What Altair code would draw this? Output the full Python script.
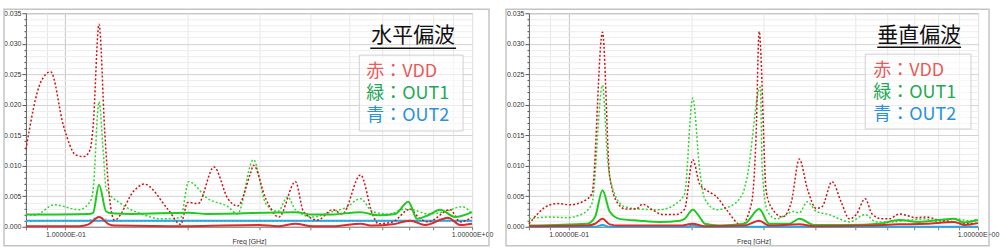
import altair as alt
import pandas as pd

# ---------------- data (frequency in GHz, amplitude) ----------------
# Left panel: 水平偏波
h_vdd_dot_f = [0.080, 0.087, 0.092, 0.099, 0.106, 0.111, 0.115, 0.117, 0.121, 0.125, 0.128, 0.132,
               0.148, 0.156, 0.179, 0.192, 0.200, 0.212, 0.232, 0.251, 0.265, 0.286, 0.290, 0.311,
               0.335, 0.368, 0.385, 0.417, 0.454, 0.480, 0.532, 0.569, 0.588, 0.637, 0.705, 0.737,
               0.780, 0.883, 0.935, 1.000]
h_vdd_dot_v = [0.0127, 0.0237, 0.0254, 0.0165, 0.0118, 0.0115, 0.0126, 0.0164, 0.0332, 0.0155, 0.0057, 0.0011,
               0.0060, 0.0070, 0.0028, 0.0004, 0.0040, 0.0038, 0.0098, 0.0046, 0.0034, 0.0090, 0.0101, 0.0046,
               0.0016, 0.0074, 0.0025, 0.0011, 0.0028, 0.0021, 0.0085, 0.0021, 0.0005, 0.0008, 0.0029, 0.0016,
               0.0008, 0.0028, 0.0008, 0.0016]

h_out1_dot_f = [0.080, 0.084, 0.094, 0.108, 0.115, 0.117, 0.121, 0.124, 0.126, 0.137, 0.154, 0.172, 0.192,
                0.201, 0.224, 0.251, 0.265, 0.290, 0.311, 0.333, 0.352, 0.368, 0.405, 0.454, 0.488, 0.532,
                0.569, 0.622, 0.685, 0.713, 0.780, 0.859, 0.945, 1.000]
h_out1_dot_v = [0.0021, 0.0019, 0.0036, 0.0028, 0.0041, 0.0060, 0.0205, 0.0120, 0.0062, 0.0038, 0.0021, 0.0013, 0.0015,
                0.0074, 0.0046, 0.0033, 0.0021, 0.0110, 0.0038, 0.0025, 0.0049, 0.0028, 0.0016, 0.0025, 0.0031, 0.0046,
                0.0025, 0.0021, 0.0029, 0.0028, 0.0021, 0.0025, 0.0033, 0.0021]

h_out1_sol_f = [0.080, 0.114, 0.117, 0.121, 0.126, 0.130, 0.145, 0.201, 0.224, 0.368, 0.405, 0.444, 0.532,
                0.588, 0.647, 0.697, 0.733, 0.780, 0.835, 0.909, 1.000]
h_out1_sol_v = [0.0020, 0.0021, 0.0023, 0.0069, 0.0025, 0.0022, 0.0021, 0.0023, 0.0021, 0.0024, 0.0020, 0.0020, 0.0024,
                0.0019, 0.0021, 0.0041, 0.0013, 0.0019, 0.0028, 0.0016, 0.0024]

h_vdd_sol_f = [0.080, 0.108, 0.114, 0.121, 0.128, 0.132, 0.200, 0.299, 0.333, 0.368, 0.405, 0.454, 0.532,
               0.569, 0.637, 0.705, 0.767, 0.873, 0.935, 1.000]
h_vdd_sol_v = [0.0001, 0.0001, 0.0004, 0.0016, 0.0004, 0.0002, 0.0001, 0.0003, 0.0001, 0.0005, 0.0001, 0.0001, 0.0005,
               0.0002, 0.0004, 0.0010, 0.0003, 0.0015, 0.0003, 0.0005]

h_out2_sol_f = [0.080, 0.200, 0.500, 1.000]
h_out2_sol_v = [0.0010, 0.0010, 0.0010, 0.0010]

h_out2_dot_f = [0.080, 0.112, 0.121, 0.130, 0.835, 0.873, 0.909, 1.000]
h_out2_dot_v = [0.0009, 0.0009, 0.0016, 0.0009, 0.0009, 0.0013, 0.0009, 0.0009]

# Right panel: 垂直偏波
v_vdd_dot_f = [0.080, 0.090, 0.094, 0.101, 0.108, 0.114, 0.121, 0.126, 0.132, 0.138, 0.146, 0.1515, 0.160,
               0.170, 0.183, 0.192, 0.201, 0.209, 0.217, 0.230, 0.243, 0.264, 0.280, 0.287, 0.292, 0.304,
               0.314, 0.333, 0.350, 0.366, 0.383, 0.403, 0.416, 0.440, 0.463, 0.485, 0.504, 0.530, 0.551,
               0.583, 0.607, 0.642, 0.706, 0.747, 0.803, 0.864, 0.935, 1.000]
v_vdd_dot_v = [0.0005, 0.0036, 0.0038, 0.0036, 0.0041, 0.0054, 0.0319, 0.0082, 0.0038, 0.0029, 0.0029, 0.0037, 0.0028,
               0.0020, 0.0020, 0.0029, 0.0110, 0.0070, 0.0060, 0.0049, 0.0028, 0.0003, 0.0040, 0.0150, 0.0320, 0.0057,
               0.0030, 0.0016, 0.0041, 0.0111, 0.0062, 0.0030, 0.0033, 0.0074, 0.0041, 0.0013, 0.0020, 0.0046, 0.0021,
               0.0013, 0.0013, 0.0021, 0.0015, 0.0016, 0.0011, 0.0008, 0.0005, 0.0006]

v_out1_dot_f = [0.080, 0.090, 0.099, 0.108, 0.114, 0.121, 0.1245, 0.1295, 0.137, 0.149, 0.167, 0.183, 0.192,
                0.201, 0.209, 0.215, 0.230, 0.247, 0.266, 0.273, 0.294, 0.297, 0.306, 0.322, 0.340, 0.352,
                0.366, 0.383, 0.403, 0.433, 0.458, 0.485, 0.530, 0.564, 0.617, 0.679, 0.747, 0.803, 0.884,
                0.951, 1.000]
v_out1_dot_v = [0.0013, 0.0016, 0.0015, 0.0021, 0.0038, 0.0232, 0.0110, 0.0054, 0.0033, 0.0029, 0.0028, 0.0038, 0.0054,
                0.0211, 0.0093, 0.0046, 0.0028, 0.0033, 0.0054, 0.0082, 0.0229, 0.0095, 0.0025, 0.0013, 0.0020, 0.0025,
                0.0023, 0.0041, 0.0025, 0.0020, 0.0013, 0.0008, 0.0020, 0.0008, 0.0008, 0.0011, 0.0013, 0.0008, 0.0013,
                0.0010, 0.0013]

v_out1_sol_f = [0.080, 0.111, 0.116, 0.121, 0.126, 0.133, 0.149, 0.167, 0.187, 0.192, 0.201, 0.209, 0.215,
                0.2335, 0.269, 0.292, 0.309, 0.346, 0.366, 0.398, 0.485, 0.573, 0.642, 0.718, 0.803, 0.874,
                0.925, 1.000]
v_out1_sol_v = [0.0002, 0.0005, 0.0016, 0.0060, 0.0025, 0.0013, 0.0010, 0.0008, 0.0010, 0.0013, 0.0028, 0.0016, 0.0005,
                0.0002, 0.0005, 0.0029, 0.0005, 0.0005, 0.0013, 0.0003, 0.0003, 0.0005, 0.0011, 0.0008, 0.0011, 0.0013,
                0.0007, 0.0011]

v_vdd_sol_f = [0.080, 0.111, 0.116, 0.121, 0.126, 0.133, 0.187, 0.201, 0.215, 0.269, 0.292, 0.309, 0.366,
               0.398, 0.530, 0.642, 0.747, 0.874, 0.925, 1.000]
v_vdd_sol_v = [0.0001, 0.0002, 0.0005, 0.0013, 0.0004, 0.0002, 0.0002, 0.0005, 0.0001, 0.0002, 0.0010, 0.0002, 0.0004,
               0.0001, 0.0002, 0.0004, 0.0005, 0.0008, 0.0003, 0.0006]

v_out2_sol_f = [0.080, 0.116, 0.121, 0.126, 0.195, 0.201, 0.209, 1.000]
v_out2_sol_v = [0.0000, 0.0000, 0.0003, 0.0000, 0.0000, 0.0002, 0.0000, 0.0000]

v_out2_dot_f = [0.080, 0.116, 0.121, 0.126, 0.195, 0.201, 0.209, 1.000]
v_out2_dot_v = [0.0000, 0.0000, 0.0003, 0.0000, 0.0000, 0.0002, 0.0000, 0.0000]

y_ticks = [i / 1000 for i in range(36)]
x_ticks = [0.08, 0.09, 0.1, 0.2, 0.3, 0.4, 0.5, 0.6, 0.7, 0.8, 0.9, 1.0]

legend_lines = ["赤：VDD", "緑：OUT1", "青：OUT2"]
legend_colors = ["#e85a5a", "#22a855", "#2a90e0"]

# ---------------- chart ----------------
one = pd.DataFrame({"a": [0]})

major_test = "round(datum.value*1000) % 5 == 0"

x_enc = alt.X(
    "freq:Q",
    scale=alt.Scale(type="log", domain=[0.08, 1.0], nice=False),
    axis=alt.Axis(
        values=x_ticks,
        title="Freq [GHz]",
        titleFont="Liberation Sans",
        titleFontSize=7,
        titleFontWeight="normal",
        titleColor="#333",
        titlePadding=0,
        labelExpr="datum.value == 0.1 ? '1.00000E-01' : (datum.value == 1 ? '1.00000E+00' : '')",
        labelFont="Liberation Sans",
        labelFontSize=7,
        labelColor="#333",
        labelPadding=1,
        labelOverlap=False,
        labelFlush=False,
        tickSize=3,
        tickColor="#777",
        domainColor="#888",
        grid=True,
        gridColor={"condition": {"test": "datum.value == 0.1", "value": "#c4c4c4"}, "value": "#e6e6e6"},
    ),
)

y_enc = alt.Y(
    "val:Q",
    scale=alt.Scale(domain=[0, 0.035], nice=False),
    axis=alt.Axis(
        values=y_ticks,
        title=None,
        labelExpr=major_test + " ? format(datum.value, '.3f') : ''",
        labelFont="Liberation Sans",
        labelFontSize=7,
        labelColor="#333",
        labelPadding=1,
        labelOverlap=False,
        tickSize={"condition": {"test": major_test, "value": 4}, "value": 2},
        tickColor="#555",
        domainColor="#666",
        grid=True,
        gridColor={"condition": {"test": major_test, "value": "#d2d2d2"}, "value": "#ededed"},
    ),
)


def line(f, v, color, dash, width):
    df = pd.DataFrame({"freq": f, "val": v})
    kw = dict(color=color, strokeWidth=width, interpolate="monotone")
    if dash:
        kw["strokeDash"] = [2, 2]
    return alt.Chart(df).mark_line(**kw).encode(x=x_enc, y=y_enc)


def panel(series, title, title_x, ul_x1, ul_x2, ul_y, box, text_x, text_ys, fx1, fx2, width):
    layers = []
    # outer frame
    layers.append(
        alt.Chart(one).mark_rect(fill="white", fillOpacity=0, stroke="#c4c4c4", strokeWidth=1.5).encode(
            x=alt.value(fx1), x2=alt.value(fx2), y=alt.value(-4), y2=alt.value(233)
        )
    )
    for f, v, color, dash, w in series:
        layers.append(line(f, v, color, dash, w))
    # legend box
    layers.append(
        alt.Chart(one).mark_rect(fill="white", fillOpacity=0.55, stroke="#d0d0d0", strokeWidth=1).encode(
            x=alt.value(box[0]), x2=alt.value(box[1]), y=alt.value(box[2]), y2=alt.value(box[3])
        )
    )
    # title and underline
    layers.append(
        alt.Chart(one).mark_text(font="Noto Sans CJK JP", fontSize=21, color="#111", align="center", baseline="middle").encode(
            x=alt.value(title_x), y=alt.value(23), text=alt.value(title)
        )
    )
    layers.append(
        alt.Chart(one).mark_rule(color="#111", strokeWidth=1.5).encode(
            x=alt.value(ul_x1), x2=alt.value(ul_x2), y=alt.value(ul_y)
        )
    )
    for txt, col, ty in zip(legend_lines, legend_colors, text_ys):
        layers.append(
            alt.Chart(one).mark_text(font="Noto Sans CJK JP", fontSize=18, color=col, align="left", baseline="middle").encode(
                x=alt.value(text_x), y=alt.value(ty), text=alt.value(txt)
            )
        )
    return alt.layer(*layers).properties(width=width, height=214)


RED_DOT = "#cc1515"
GREEN_DOT = "#2fd62f"
GREEN = "#22c922"
RED = "#dd2a2a"
BLUE = "#2aa6e6"
BLUE_DOT = "#5ac8f0"

left = panel(
    [
        (h_out2_dot_f, h_out2_dot_v, BLUE_DOT, True, 1.5),
        (h_out2_sol_f, h_out2_sol_v, BLUE, False, 2),
        (h_out1_dot_f, h_out1_dot_v, GREEN_DOT, True, 1.5),
        (h_vdd_dot_f, h_vdd_dot_v, RED_DOT, True, 1.5),
        (h_out1_sol_f, h_out1_sol_v, GREEN, False, 2),
        (h_vdd_sol_f, h_vdd_sol_v, RED, False, 2),
    ],
    "水平偏波", 388, 345, 431, 35,
    (334, 438, 42, 118), 341, [59, 81, 103],
    -22, 464, 447,
)

right = panel(
    [
        (v_out2_dot_f, v_out2_dot_v, BLUE_DOT, True, 1.5),
        (v_out2_sol_f, v_out2_sol_v, BLUE, False, 2),
        (v_out1_dot_f, v_out1_dot_v, GREEN_DOT, True, 1.5),
        (v_vdd_dot_f, v_vdd_dot_v, RED_DOT, True, 1.5),
        (v_out1_sol_f, v_out1_sol_v, GREEN, False, 2),
        (v_vdd_sol_f, v_vdd_sol_v, RED, False, 2),
    ],
    "垂直偏波", 391, 349, 433, 34,
    (337, 443, 41, 116), 345, [58, 80, 102],
    -23, 461, 450,
)

chart = (
    alt.hconcat(left, right, spacing=57, bounds="flush")
    .properties(padding={"left": 2, "top": 7, "right": 0, "bottom": 0}, background="white")
    .configure_view(stroke="#9a9a9a", strokeWidth=1)
)

chart.save("out.html", embed_options={"renderer": "svg", "actions": False})
